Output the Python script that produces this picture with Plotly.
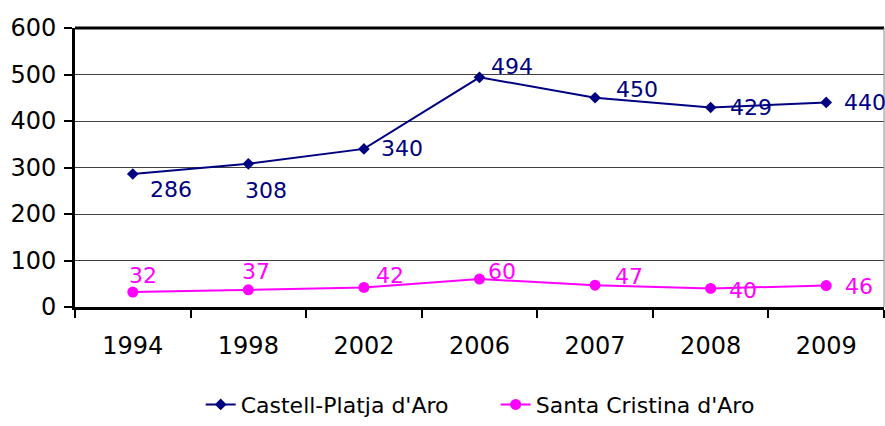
import plotly.graph_objects as go

years = ["1994", "1998", "2002", "2006", "2007", "2008", "2009"]
castell = [286, 308, 340, 494, 450, 429, 440]
santa = [32, 37, 42, 60, 47, 40, 46]

# label offsets in pixels (dx, dy; dy positive = downwards)
castell_dx = [38, 18, 38, 32, 42, 40, 39]
castell_dy = [15, 27, 0, -11, -8, 0, 0]
santa_dx = [10, 8, 26, 22, 34, 32, 33]
santa_dy = [-17, -18, -12, -8, -9, 2, 1]

NAVY = "#000080"
MAG = "#FF00FF"
FONT = "DejaVu Sans"

fig = go.Figure()
fig.add_trace(go.Scatter(
    x=years, y=castell, name="Castell-Platja d'Aro", mode="lines+markers",
    line=dict(color=NAVY, width=2), marker=dict(symbol="diamond", size=9, color=NAVY),
    cliponaxis=False,
))
fig.add_trace(go.Scatter(
    x=years, y=santa, name="Santa Cristina d'Aro", mode="lines+markers",
    line=dict(color=MAG, width=2), marker=dict(symbol="circle", size=11, color=MAG),
    cliponaxis=False,
))

for vals, dxs, dys, col in [(castell, castell_dx, castell_dy, NAVY), (santa, santa_dx, santa_dy, MAG)]:
    for i, (v, dx, dy) in enumerate(zip(vals, dxs, dys)):
        fig.add_annotation(x=i, y=v, xref="x", yref="y", text=str(v), showarrow=False,
                           xshift=dx, yshift=-dy, xanchor="center", yanchor="middle",
                           font=dict(color=col, size=22, family=FONT))

fig.update_layout(
    width=885, height=426,
    margin=dict(l=75, r=1, t=28, b=119),
    paper_bgcolor="white", plot_bgcolor="white",
    font=dict(family=FONT, color="black", size=20),
    showlegend=True,
    legend=dict(orientation="h", x=0.52, xanchor="center", y=-0.425, yanchor="bottom",
                font=dict(size=22, family=FONT), entrywidth=250, entrywidthmode="pixels"),
    xaxis=dict(type="category", showgrid=False, showline=True, linecolor="black", linewidth=3,
               ticks="outside", tickson="boundaries", ticklen=8, tickwidth=2, tickcolor="black",
               tickfont=dict(size=24), ticklabelstandoff=15, automargin=False,
               range=[-0.5, 6.5]),
    yaxis=dict(range=[0, 600], dtick=100, showgrid=True, gridcolor="#404040", gridwidth=1,
               showline=True, linecolor="black", linewidth=3, ticks="outside", ticklen=8,
               tickwidth=2, tickcolor="black", tickfont=dict(size=24), zeroline=False,
               ticklabelstandoff=3, automargin=False),
)
fig.add_shape(type="line", xref="paper", yref="paper", x0=0, x1=1, y0=1, y1=1,
              line=dict(color="black", width=3))
fig.add_shape(type="line", xref="paper", yref="paper", x0=1, x1=1, y0=0, y1=1,
              line=dict(color="#888888", width=1))

fig.write_html("out.html", config={"displayModeBar": False},
               post_script="document.body.style.margin='0';")
